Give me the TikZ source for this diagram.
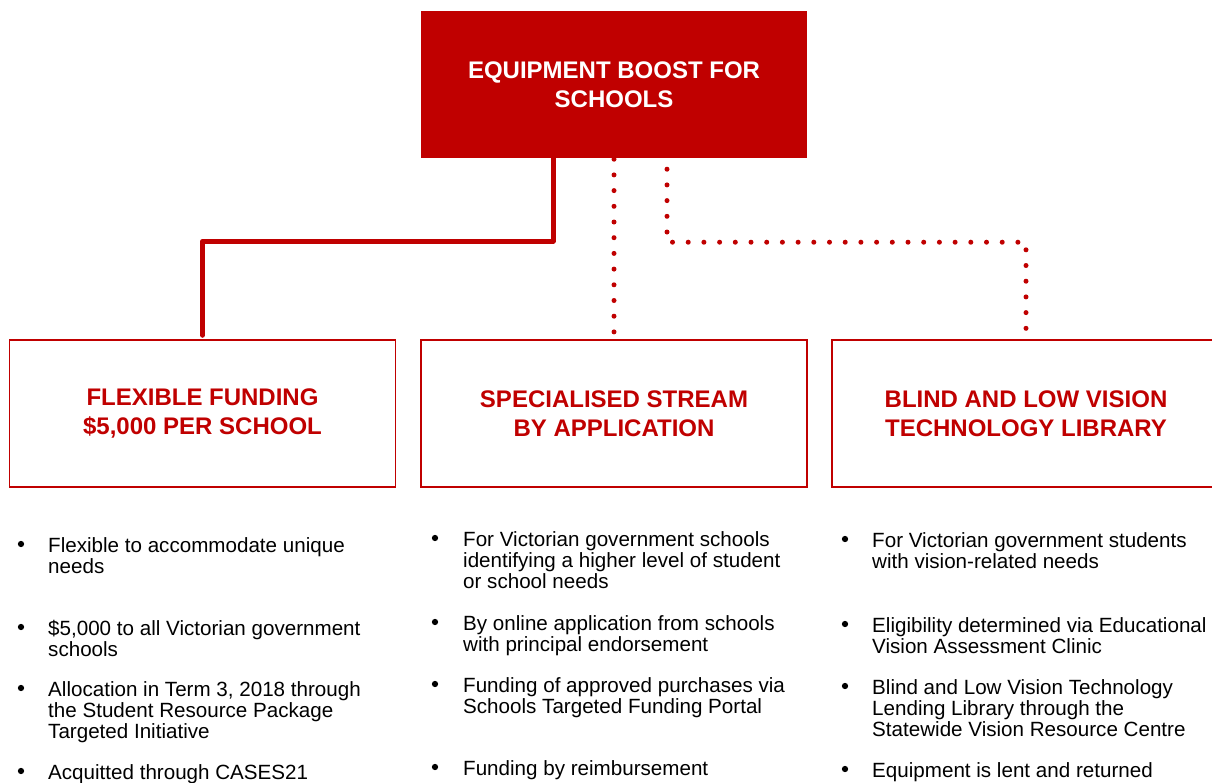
\documentclass[tikz,border=0pt]{standalone}
\usepackage{fontspec}
\setmainfont{Liberation Sans}
\definecolor{dred}{HTML}{C00000}
\newcommand\tlines[1]{\vtop{\halign{##\hfil\cr#1\crcr}}}
\begin{document}
\begin{tikzpicture}[x=1pt,y=-1pt,
  topbox/.style={fill=dred,draw=none,minimum width=386,minimum height=147,inner sep=0,
    text=white,font=\bfseries\fontsize{24}{29}\selectfont,align=center},
  subbox/.style={draw=dred,line width=1.5,fill=white,minimum width=386,minimum height=147,inner sep=0,
    text=dred,font=\bfseries\fontsize{24}{29}\selectfont,align=center},
  solidconn/.style={draw=dred,line width=5,line cap=round,line join=round},
  dotconn/.style={draw=dred,line width=5,line cap=round,dash pattern=on 0pt off 15.7pt},
  bul/.style={circle,fill=black,inner sep=0,minimum size=6.3},
  txt/.style={anchor=base west,inner sep=0,font=\fontsize{20.6}{21}\selectfont}]
\useasboundingbox (0,0) rectangle (1212,782);
\node[topbox] (top) at (614,84.5) {EQUIPMENT BOOST FOR\\SCHOOLS};
\node[subbox] (box1) at (202.5,413.5) {FLEXIBLE FUNDING\\\$5,000 PER SCHOOL};
\node[subbox] (box2) at (614,413.5) {SPECIALISED STREAM\\BY APPLICATION};
\node[subbox,minimum width=388] (box3) at (1026,413.5) {BLIND AND LOW VISION\\TECHNOLOGY LIBRARY};
% connectors
\draw[solidconn,shorten >=4] ([xshift=-61]top.south) -- ++(0,83) -| (box1.north);
\draw[dotconn,shorten <=1,shorten >=4] (top.south) -- (box2.north);
\draw[dotconn,shorten <=11,shorten >=4] ([xshift=53]top.south) -- ++(0,84) -| (box3.north);
% column 1
\node[bul] (b11) at (21,544) {};
\node[txt] (t11) at (48,552) {\tlines{Flexible to accommodate unique\cr needs}};
\node[bul] (b12) at (21,627) {};
\node[txt] (t12) at (48,635) {\tlines{\$5,000 to all Victorian government\cr schools}};
\node[bul] (b13) at (21,688) {};
\node[txt] (t13) at (48,696) {\tlines{Allocation in Term 3, 2018 through\cr the Student Resource Package\cr Targeted Initiative}};
\node[bul] (b14) at (21,771) {};
\node[txt] (t14) at (48,779) {Acquitted through CASES21};
% column 2
\node[bul] (b21) at (435,538) {};
\node[txt] (t21) at (463,546) {\tlines{For Victorian government schools\cr identifying a higher level of student\cr or school needs}};
\node[bul] (b22) at (435,622) {};
\node[txt] (t22) at (463,630) {\tlines{By online application from schools\cr with principal endorsement}};
\node[bul] (b23) at (435,684) {};
\node[txt] (t23) at (463,692) {\tlines{Funding of approved purchases via\cr Schools Targeted Funding Portal}};
\node[bul] (b24) at (435,767) {};
\node[txt] (t24) at (463,775) {Funding by reimbursement};
% column 3
\node[bul] (b31) at (845,539) {};
\node[txt] (t31) at (872,547) {\tlines{For Victorian government students\cr with vision-related needs}};
\node[bul] (b32) at (845,624) {};
\node[txt] (t32) at (872,632) {\tlines{Eligibility determined via Educational\cr Vision Assessment Clinic}};
\node[bul] (b33) at (845,686) {};
\node[txt] (t33) at (872,694) {\tlines{Blind and Low Vision Technology\cr Lending Library through the\cr Statewide Vision Resource Centre}};
\node[bul] (b34) at (845,769) {};
\node[txt] (t34) at (872,777) {Equipment is lent and returned};
\end{tikzpicture}
\end{document}
